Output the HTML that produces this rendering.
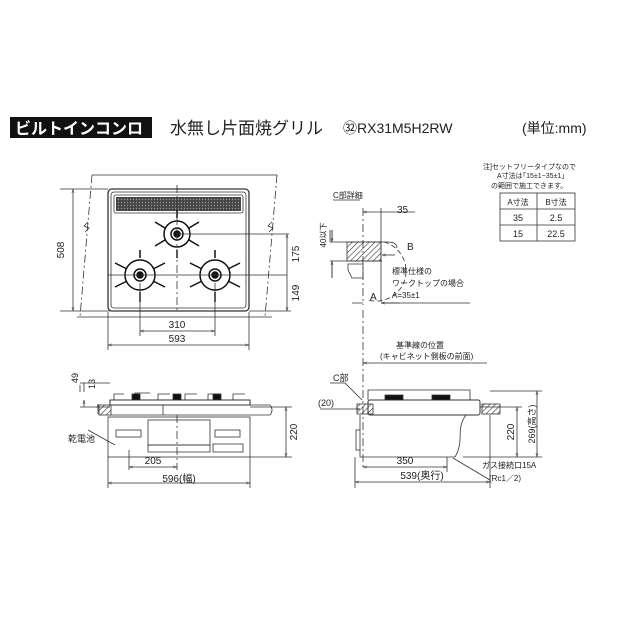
<!DOCTYPE html>
<html><head><meta charset="utf-8"><style>
body{margin:0;background:#fff;width:630px;height:630px;overflow:hidden}
svg{display:block}
text{font-family:"Liberation Sans","Noto Sans CJK JP",sans-serif;fill:#222}
</style></head><body>
<svg width="630" height="630" viewBox="0 0 630 630" xmlns="http://www.w3.org/2000/svg">
<defs>
<pattern id="h" width="4" height="4" patternUnits="userSpaceOnUse" patternTransform="rotate(45)"><line x1="0" y1="0" x2="0" y2="4" stroke="#333" stroke-width="1.2"/></pattern>
<pattern id="mesh" width="3" height="3" patternUnits="userSpaceOnUse"><rect width="3" height="3" fill="#444"/><circle cx="1.5" cy="1.5" r="0.7" fill="#999"/></pattern>
<marker id="a" viewBox="0 0 10 10" refX="10" refY="5" markerWidth="5" markerHeight="5" orient="auto-start-reverse"><path d="M0,2 L10,5 L0,8" fill="none" stroke="#333"/></marker>
</defs>
<!-- header -->
<rect x="10" y="117" width="142" height="21" fill="#111"/>
<text x="15" y="134" font-size="16" font-weight="bold" style="fill:#fff">ビルトインコンロ</text>
<text x="170" y="134" font-size="17">水無し片面焼グリル</text>
<text x="343" y="133" font-size="14">㉜RX31M5H2RW</text>
<text x="522" y="133" font-size="14">(単位:mm)</text>

<g stroke="#333" fill="none" stroke-width="0.8">
<!-- top view -->
<path d="M92,175 L277,175"/>
<path d="M92,175 L80,317 M277,175 L265,317" stroke-dasharray="8,3,2,3"/>
<path d="M77,317 L272,317"/>
<path d="M88,222 l-4,4 l5,2 l-4,4 M272,222 l-4,4 l5,2 l-4,4"/>
<rect x="108" y="189" width="141" height="122" rx="4" stroke-width="1.3"/>
<rect x="111" y="192" width="135" height="116" rx="3"/>
<rect x="114" y="195" width="129" height="18" rx="2"/>
<rect x="116" y="197" width="125" height="14" fill="url(#mesh)" stroke="none"/>
<g stroke="#111" stroke-width="1.5">
<circle cx="177" cy="234" r="13"/><circle cx="177" cy="234" r="6"/><circle cx="177" cy="234" r="3" fill="#111"/>
<circle cx="140" cy="275" r="15"/><circle cx="140" cy="275" r="6"/><circle cx="140" cy="275" r="3" fill="#111"/>
<circle cx="215" cy="275" r="15"/><circle cx="215" cy="275" r="6"/><circle cx="215" cy="275" r="3" fill="#111"/>
<path d="M155,222 l10,6 M199,222 l-10,6 M155,246 l10,-6 M199,246 l-10,-6 M177,210 v8 M177,250 v8"/>
<path d="M115,263 l12,6 M165,263 l-12,6 M115,287 l12,-6 M165,287 l-12,-6 M140,250 v8 M140,292 v10"/>
<path d="M190,263 l12,6 M240,263 l-12,6 M190,287 l12,-6 M240,287 l-12,-6 M215,250 v8 M215,292 v10"/>
</g>
<path d="M177,185 V312" stroke-dasharray="8,3,2,3"/>
<path d="M108,275 H287"/>
<path d="M177,234 H289"/>
<path d="M140,283 V336 M215,283 V336 M108,312 V350 M249,312 V350 M60,189 H108 M60,311 H110 M249,311 H291"/>
<path d="M73,189 V311" marker-start="url(#a)" marker-end="url(#a)"/>
<path d="M287,234 V275 M287,275 V311" marker-start="url(#a)" marker-end="url(#a)"/>
<path d="M140,331 H215" marker-start="url(#a)" marker-end="url(#a)"/>
<path d="M108,345 H249" marker-start="url(#a)" marker-end="url(#a)"/>

<!-- C detail -->
<path d="M333,200 H360"/>
<path d="M363,208 V305" stroke-dasharray="8,3,2,3"/>
<path d="M381,208 V302"/>
<path d="M363,212 H381 M381,212 H415" marker-start="url(#a)"/>
<path d="M330,242 H388 Q397,242 397,248 M330,261 H382 M330,242 V230 M332,230 V242 M332,261 V278" />
<path d="M332,230 V242" marker-end="url(#a)"/>
<path d="M332,278 V261" marker-end="url(#a)"/>
<rect x="347" y="242" width="34" height="19" fill="url(#h)"/>
<path d="M395,255 H382" marker-end="url(#a)"/>
<path d="M348,264 H363 V278 H352 L348,270 Z"/>
<path d="M384,242 A30,30 0 0 1 368,300" stroke-dasharray="5,3"/>
<path d="M352,303 H363 M400,303 H381" marker-end="url(#a)"/>
<path d="M381,303 H470"/>
<!-- table -->
<rect x="500" y="193" width="75" height="48"/>
<path d="M537,193 V241 M500,209 H575 M500,225 H575"/>

<!-- front view -->
<path d="M80,383 H110 M80,392 V385" />
<path d="M84,383 V392 M84,407 V400" marker-end="url(#a)"/>
<path d="M98,404 V414" marker-start="url(#a)"/>
<path d="M80,407 H110"/>
<rect x="99" y="405" width="12" height="10" fill="url(#h)"/>
<path d="M110,415 H270 M110,405 H270 M270,405 q4,5 0,10"/>
<rect x="110" y="400" width="140" height="5" stroke-width="1"/>
<path d="M114,400 v-6 h10 M135,400 v-7 h15 M158,400 v-6 h12 M185,400 v-6 h12 M208,400 v-6 h12 M233,400 v-6 h12"/>
<g fill="#111"><rect x="132" y="394" width="8" height="6"/><rect x="173" y="394" width="8" height="6"/><rect x="213" y="394" width="8" height="6"/></g>
<path d="M163,405 V415"/>
<rect x="108" y="417" width="142" height="40"/>
<rect x="148" y="420" width="62" height="25"/>
<path d="M148,445 H210 V452 H148 Z"/>
<rect x="116" y="430" width="25" height="7"/><rect x="215" y="430" width="25" height="7"/>
<rect x="213" y="444" width="30" height="8"/>
<path d="M177,415 V470" stroke-dasharray="8,3,2,3"/>
<path d="M88,430 L115,445 M129,450 V470"/>
<path d="M250,407 H292 M250,457 H292"/>
<path d="M286,407 V457" marker-start="url(#a)" marker-end="url(#a)"/>
<path d="M129,467 H177" marker-start="url(#a)" marker-end="url(#a)"/>
<path d="M108,457 V488 M250,457 V488"/>
<path d="M108,483 H250" marker-start="url(#a)" marker-end="url(#a)"/>

<!-- side view -->
<path d="M363,310 V470" stroke-dasharray="8,3,2,3"/>
<path d="M363,363 H487" marker-start="url(#a)"/>
<path d="M330,383 H345 L362,400" />
<path d="M320,409 H360" marker-end="url(#a)"/>
<rect x="357" y="404" width="16" height="10" fill="url(#h)"/>
<rect x="482" y="404" width="18" height="10" fill="url(#h)"/>
<path d="M368,400 V390 H470 V400"/>
<rect x="368" y="400" width="112" height="15" rx="2" stroke-width="1"/>
<g fill="#111"><rect x="385" y="395" width="18" height="5"/><rect x="432" y="395" width="18" height="5"/></g>
<path d="M360,415 V457 H455 M463,457 H505 M360,430 h-4 v20 h4"/>
<path d="M466,415 C455,430 465,440 455,457"/>
<path d="M480,407 H522 M490,391 H542 M505,457 H542"/>
<path d="M517,407 V457" marker-start="url(#a)" marker-end="url(#a)"/>
<path d="M537,391 V457" marker-start="url(#a)" marker-end="url(#a)"/>
<path d="M363,467 H447" marker-start="url(#a)" marker-end="url(#a)"/>
<path d="M355,457 V488 M490,415 V488 M447,457 V472"/>
<path d="M355,482 H490" marker-start="url(#a)" marker-end="url(#a)"/>
<path d="M453,458 L490,480"/>
</g>

<g font-size="10">
<text x="64" y="250" transform="rotate(-90 64 250)" text-anchor="middle">508</text>
<text x="299" y="254" transform="rotate(-90 299 254)" text-anchor="middle">175</text>
<text x="299" y="293" transform="rotate(-90 299 293)" text-anchor="middle">149</text>
<text x="177" y="328" text-anchor="middle">310</text>
<text x="177" y="342" text-anchor="middle">593</text>
<text x="333" y="198" font-size="8">C部詳細</text>
<text x="397" y="213">35</text>
<text x="326" y="235" font-size="8" transform="rotate(-90 326 235)" text-anchor="middle">40以下</text>
<text x="407" y="250">B</text>
<text x="370" y="300">A</text>
<text x="392" y="274" font-size="8">標準仕様の</text>
<text x="392" y="286" font-size="8">ワークトップの場合</text>
<text x="392" y="298" font-size="8">A=35±1</text>
<text x="483" y="169" font-size="7">注]セットフリータイプなので</text>
<text x="497" y="178" font-size="7">A寸法は｢15±1~35±1｣</text>
<text x="491" y="188" font-size="7">の範囲で施工できます。</text>
<text x="518" y="205" font-size="8" text-anchor="middle">A寸法</text>
<text x="556" y="205" font-size="8" text-anchor="middle">B寸法</text>
<text x="518" y="221" font-size="9" text-anchor="middle">35</text>
<text x="556" y="221" font-size="9" text-anchor="middle">2.5</text>
<text x="518" y="237" font-size="9" text-anchor="middle">15</text>
<text x="556" y="237" font-size="9" text-anchor="middle">22.5</text>
<text x="78" y="378" font-size="9" transform="rotate(-90 78 378)" text-anchor="middle">49</text>
<text x="95" y="384" font-size="9" transform="rotate(-90 95 384)" text-anchor="middle">13</text>
<text x="68" y="442" font-size="9">乾電池</text>
<text x="297" y="432" transform="rotate(-90 297 432)" text-anchor="middle">220</text>
<text x="153" y="464" text-anchor="middle">205</text>
<text x="179" y="482" text-anchor="middle">596(幅)</text>
<text x="396" y="348" font-size="8">基準線の位置</text>
<text x="380" y="359" font-size="8">(キャビネット側板の前面)</text>
<text x="333" y="381" font-size="9">C部</text>
<text x="318" y="406" font-size="9">(20)</text>
<text x="514" y="432" transform="rotate(-90 514 432)" text-anchor="middle">220</text>
<text x="535" y="424" font-size="9" transform="rotate(-90 535 424)" text-anchor="middle">269(高さ)</text>
<text x="405" y="464" text-anchor="middle">350</text>
<text x="422" y="479" text-anchor="middle">539(奥行)</text>
<text x="482" y="468" font-size="8">ガス接続口15A</text>
<text x="489" y="481" font-size="8">(Rc1／2)</text>
</g>
</svg>
</body></html>
